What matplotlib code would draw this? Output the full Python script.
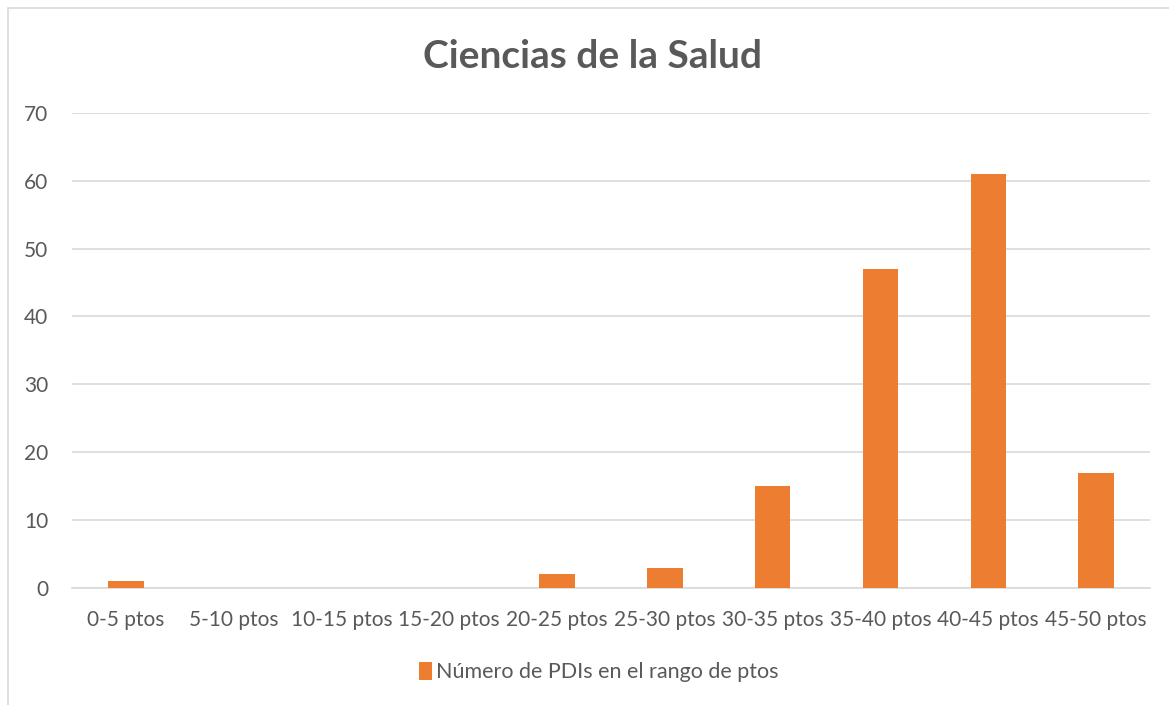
import matplotlib.pyplot as plt
import numpy as np
from matplotlib.patches import Rectangle

# rangos de puntos
rangos = ['0-5 ptos', '5-10 ptos', '10-15 ptos', '15-20 ptos', '20-25 ptos',
          '25-30 ptos', '30-35 ptos', '35-40 ptos', '40-45 ptos', '45-50 ptos']
# número de PDIs
num_pdis = [1, 0, 0, 0, 2, 3, 15, 47, 61, 17]

plt.rcParams['font.family'] = ['Lato', 'DejaVu Sans']
gris = '#595959'
naranja = '#ED7D31'

fig = plt.figure(figsize=(11.69, 7.05), dpi=100)
ax = fig.add_axes([72 / 1169, 0.166, 1078 / 1169, 0.674])

x = np.arange(len(rangos))
ax.bar(x, num_pdis, width=0.33, color=naranja, label='Número de PDIs en el rango de ptos', zorder=3)

ax.set_xlim(-0.5, len(rangos) - 0.5)
ax.set_ylim(0, 70)
ax.set_yticks(np.arange(0, 71, 10))
ax.set_xticks(x, rangos)
ax.tick_params(axis='both', length=0, labelsize=15, colors=gris)
ax.tick_params(axis='x', pad=16)
ax.tick_params(axis='y', pad=17)
ax.grid(axis='y', color='#D9D9D9', linewidth=1.2, zorder=0)
for s in ['top', 'right', 'left']:
    ax.spines[s].set_visible(False)
ax.spines['bottom'].set_color('#D9D9D9')
ax.spines['bottom'].set_linewidth(1.2)

fig.text(0.507, 0.92, 'Ciencias de la Salud', ha='center', va='center',
         fontsize=28, fontweight='bold', color=gris)

leg = fig.legend(loc='center', bbox_to_anchor=(0.512, 0.047), frameon=False,
                 fontsize=15.5, handlelength=0.6, handleheight=0.9, handletextpad=0.2)
for t in leg.get_texts():
    t.set_color(gris)

# borde del gráfico
fig.patches.append(Rectangle((8 / 1169, -0.01), 1.02, 1 - 8 / 705 + 0.01,
                             transform=fig.transFigure, fill=False,
                             edgecolor='#D9D9D9', linewidth=1.2))

plt.savefig('out.png', dpi=100)
